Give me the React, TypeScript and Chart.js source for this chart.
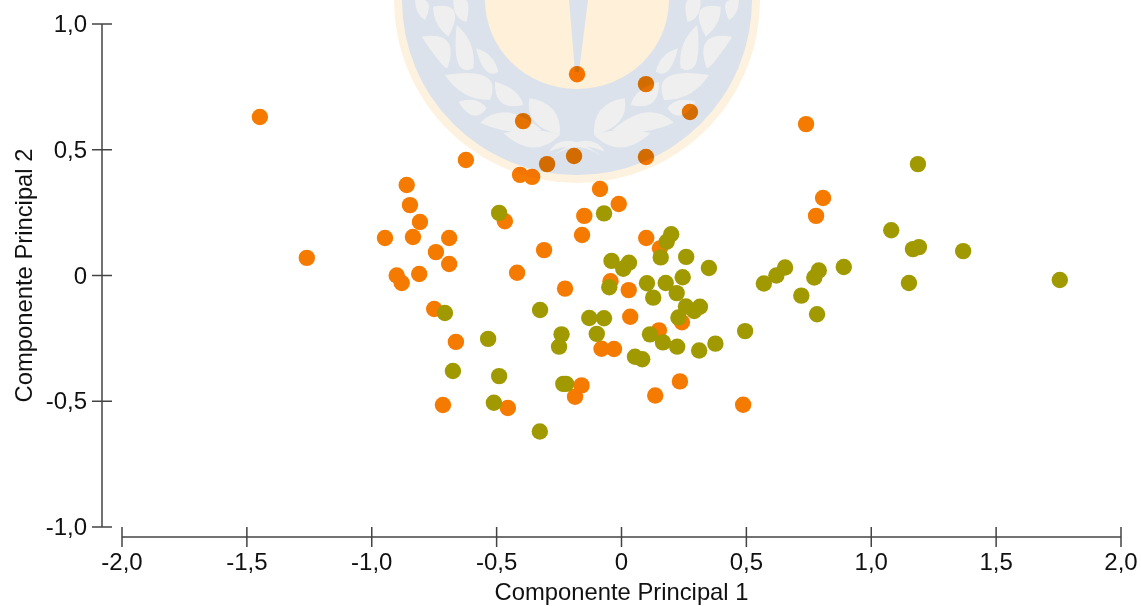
import React, { useEffect, useRef } from "react";
import { Chart, registerables } from "chart.js";

Chart.register(...registerables);

const orangeX = [-1.448,-1.26,-0.947,-0.9,-0.88,-0.86,-0.847,-0.835,-0.807,-0.81,-0.75,-0.743,-0.69,-0.69,-0.715,-0.663,-0.623,-0.467,-0.455,-0.418,-0.406,-0.394,-0.358,-0.31,-0.298,-0.226,-0.19,-0.178,-0.186,-0.16,-0.158,-0.149,-0.086,-0.08,-0.03,-0.044,-0.011,0.029,0.035,0.098,0.098,0.099,0.15,0.154,0.135,0.242,0.234,0.274,0.487,0.739,0.779,0.807];
const orangeY = [0.63,0.07,0.149,0.0,-0.03,0.36,0.28,0.153,0.213,0.006,-0.133,0.093,0.149,0.046,-0.515,-0.264,0.459,0.216,-0.527,0.011,0.4,0.614,0.392,0.101,0.443,-0.052,0.475,0.8,-0.482,-0.437,0.161,0.237,0.344,-0.291,-0.292,-0.023,0.284,-0.058,-0.164,0.761,0.471,0.149,-0.218,0.108,-0.477,-0.186,-0.421,0.65,-0.514,0.602,0.237,0.308];
const greenX = [-0.49,-0.707,-0.534,-0.675,-0.49,-0.511,-0.327,-0.326,-0.24,-0.25,-0.233,-0.222,-0.129,-0.07,-0.099,-0.07,0.199,0.181,0.157,0.259,0.35,-0.04,0.03,0.007,0.102,0.177,0.245,0.221,-0.049,0.127,0.258,0.314,0.291,0.228,0.114,0.166,0.223,0.311,0.376,0.495,0.054,0.083,0.57,0.62,0.655,0.72,0.772,0.79,0.783,0.89,1.08,1.151,1.167,1.191,1.187,1.368,1.755];
const greenY = [0.249,-0.149,-0.252,-0.38,-0.4,-0.506,-0.62,-0.137,-0.234,-0.283,-0.431,-0.431,-0.169,-0.17,-0.232,0.247,0.164,0.134,0.072,0.074,0.03,0.058,0.051,0.027,-0.031,-0.03,-0.007,-0.07,-0.047,-0.088,-0.123,-0.124,-0.141,-0.167,-0.234,-0.266,-0.283,-0.298,-0.271,-0.221,-0.323,-0.333,-0.032,0.0,0.032,-0.08,-0.008,0.02,-0.154,0.034,0.18,-0.03,0.105,0.113,0.443,0.097,-0.018];
const xTickValues = [-2, -1.5, -1, -0.5, 0, 0.5, 1, 1.5, 2];
const xTickLabels = ["-2,0", "-1,5", "-1,0", "-0,5", "0", "0,5", "1,0", "1,5", "2,0"];
const yTickValues = [-1, -0.5, 0, 0.5, 1];
const yTickLabels = ["-1,0", "-0,5", "0", "0,5", "1,0"];

const toPoints = (xs: number[], ys: number[]) => xs.map((x, i) => ({ x, y: ys[i] }));

// Seal in the background: leaf outlines as tip, control, tip, control.
const sealLeaves = [
  [430,400,520,385,600,405,520,460],
  [508,295,590,320,600,405,510,370],
  [360,368,440,320,545,390,450,400],
  [295,305,350,295,380,325,340,360],
  [405,245,470,270,490,315,415,320],
  [255,225,400,215,390,300,310,290],
  [348,145,395,165,415,215,375,225],
  [290,75,340,130,340,205,285,210],
  [185,110,280,110,262,205,240,190],
  [220,20,300,20,265,110,225,70],
  [165,0,215,0,195,60,170,40],
  [280,0,330,-10,320,65,285,50],
  [575,470,680,405,735,455,650,430],
];

const sealPlugin = {
  id: "seal",
  afterDatasetsDraw(chart: any) {
    const layer = document.createElement("canvas");
    layer.width = chart.width;
    layer.height = chart.height;
    const c = layer.getContext("2d")!;
    const cx = 577;
    const bulge = 1.4;
    c.fillStyle = "#ffffff";
    c.fillRect(0, 0, layer.width, layer.height);
    c.fillStyle = "#fdf2df";
    c.beginPath(); c.arc(cx, 0, 183, 0, Math.PI * 2); c.fill();
    c.fillStyle = "#dbe2eb";
    c.beginPath(); c.arc(cx, 0, 175, 0, Math.PI * 2); c.fill();
    c.fillStyle = "#efefef";
    for (const side of [1, -1]) {
      for (const l of sealLeaves) {
        const px = (v: number) => cx + side * (v / 3 + 360 - cx);
        const py = (v: number) => v / 3;
        const mx = (l[0] + l[4]) / 2;
        const my = (l[1] + l[5]) / 2;
        const bx = (v: number) => px(mx + (v - mx) * bulge);
        const by = (v: number) => py(my + (v - my) * bulge);
        c.beginPath();
        c.moveTo(px(l[0]), py(l[1]));
        c.quadraticCurveTo(bx(l[2]), by(l[3]), px(l[4]), py(l[5]));
        c.quadraticCurveTo(bx(l[6]), by(l[7]), px(l[0]), py(l[1]));
        c.fill();
      }
    }
    c.fillStyle = "#fef0d9";
    c.beginPath(); c.ellipse(cx, 0, 92, 89, 0, 0, Math.PI * 2); c.fill();
    c.fillStyle = "#dbe2eb";
    c.beginPath();
    c.moveTo(569, 0); c.lineTo(588, 0); c.lineTo(579, 72); c.lineTo(575, 72); c.closePath();
    c.fill();
    const ctx = chart.ctx;
    ctx.save();
    ctx.globalCompositeOperation = "multiply";
    ctx.drawImage(layer, 0, 0, chart.width, chart.height);
    ctx.restore();
  },
};

const spinePlugin = {
  id: "spines",
  afterDraw(chart: any) {
    const c = chart.ctx;
    const { x, y } = chart.scales;
    const area = chart.chartArea;
    const xLine = area.bottom + 10;
    const yLine = area.left - 20;
    c.save();
    c.strokeStyle = "#444444";
    c.lineWidth = 1.5;
    c.beginPath();
    c.moveTo(x.getPixelForValue(-2), xLine);
    c.lineTo(x.getPixelForValue(2), xLine);
    xTickValues.forEach((v) => {
      const p = x.getPixelForValue(v);
      c.moveTo(p, xLine - 10);
      c.lineTo(p, xLine + 10);
    });
    c.moveTo(yLine, y.getPixelForValue(1));
    c.lineTo(yLine, y.getPixelForValue(-1));
    yTickValues.forEach((v) => {
      const p = y.getPixelForValue(v);
      c.moveTo(yLine - 10, p);
      c.lineTo(yLine + 10, p);
    });
    c.stroke();
    c.restore();
  },
};

const font = '"Liberation Sans", Arial, sans-serif';

export default function App() {
  const ref = useRef<HTMLCanvasElement>(null);
  useEffect(() => {
    document.body.style.margin = "0";
    const chart = new Chart(ref.current!, {
      type: "scatter",
      data: {
        datasets: [
          { label: "Grupo 2", data: toPoints(greenX, greenY), backgroundColor: "#a09a00", borderWidth: 0, pointRadius: 8.2 },
          { label: "Grupo 1", data: toPoints(orangeX, orangeY), backgroundColor: "#f57a00", borderWidth: 0, pointRadius: 8.2 },
        ],
      },
      options: {
        responsive: false,
        animation: false,
        layout: { padding: { top: 24, right: 20, bottom: 0, left: 0 } },
        plugins: { legend: { display: false }, tooltip: { enabled: false } },
        scales: {
          x: {
            type: "linear",
            min: -2,
            max: 2,
            grid: { display: false },
            border: { display: false },
            afterBuildTicks: (s: any) => { s.ticks = xTickValues.map((value) => ({ value })); },
            afterFit: (s: any) => { s.height = 79; s.paddingLeft = 0; s.paddingRight = 0; },
            ticks: {
              padding: 14,
              color: "#111111",
              maxRotation: 0,
              autoSkip: false,
              font: { family: font, size: 24 },
              callback: (v: any) => xTickLabels[xTickValues.indexOf(Number(v))],
            },
            title: { display: true, text: "Componente Principal 1", color: "#111111", padding: { top: 0, bottom: -2 }, font: { family: font, size: 23.8 } },
          },
          y: {
            type: "linear",
            min: -1,
            max: 1,
            grid: { display: false },
            border: { display: false },
            afterBuildTicks: (s: any) => { s.ticks = yTickValues.map((value) => ({ value })); },
            afterFit: (s: any) => { s.width = 122; s.paddingTop = 0; s.paddingBottom = 0; },
            ticks: {
              padding: 27,
              labelOffset: 1.5,
              color: "#111111",
              autoSkip: false,
              font: { family: font, size: 24 },
              callback: (v: any) => yTickLabels[yTickValues.indexOf(Number(v))],
            },
            title: { display: true, text: "Componente Principal 2", color: "#111111", padding: { top: 11, bottom: 0 }, font: { family: font, size: 23.8 } },
          },
        },
      },
      plugins: [sealPlugin, spinePlugin],
    } as any);
    return () => chart.destroy();
  }, []);
  return <canvas ref={ref} width={1141} height={606} style={{ display: "block", position: "absolute", left: 0, top: 0 }} />;
}
